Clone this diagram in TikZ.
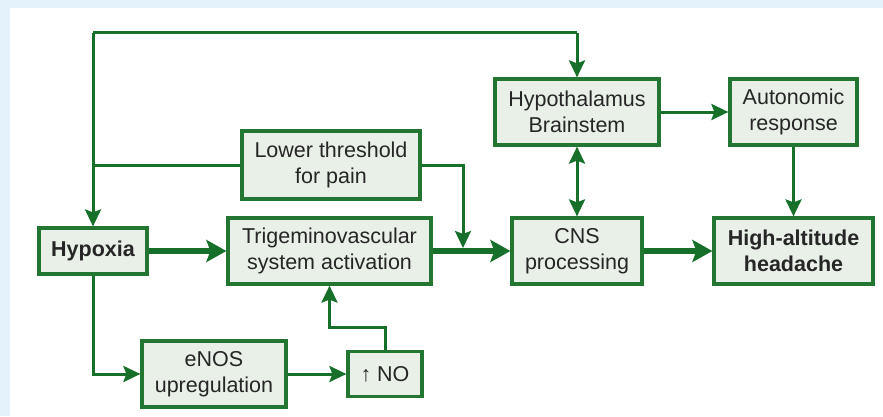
\documentclass[tikz,border=0pt]{standalone}
\usepackage{fontspec}
\setmainfont{Liberation Sans}
\usetikzlibrary{arrows.meta}
\definecolor{edgegreen}{RGB}{34,118,50}
\definecolor{linkgreen}{RGB}{22,112,42}
\definecolor{stagefill}{RGB}{232,240,231}
\definecolor{textgray}{RGB}{38,38,38}
\definecolor{edgeblue}{RGB}{228,242,252}
\tikzset{
  stage/.style={draw=edgegreen, fill=stagefill, line width=3.2pt, align=center,
    text=textgray, inner sep=0pt, font=\fontsize{21.5}{26}\selectfont},
  flow/.style={draw=linkgreen, line width=3pt,
    -{Stealth[length=17pt,width=16pt,inset=3pt]}},
  mainflow/.style={flow, line width=6pt,
    -{Stealth[length=20pt,width=22pt,inset=4pt]}}
}
\begin{document}
\begin{tikzpicture}[x=1pt, y=1pt]
  \fill[edgeblue] (0,0) rectangle (883,416);
  \fill[white] (10,0) rectangle (883,408);
  \useasboundingbox (0,0) rectangle (883,416);

  % boxes
  \node[stage, minimum width=108, minimum height=46] (hypoxia) at (93,165) {\bfseries Hypoxia};
  \node[stage, minimum width=203, minimum height=66] (trig) at (329.5,165) {Trigeminovascular\\system activation};
  \node[stage, minimum width=130, minimum height=66] (cns) at (577,165) {CNS\\processing};
  \node[stage, minimum width=159, minimum height=66] (headache) at (793.5,165) {\bfseries High-altitude\\\bfseries headache};
  \node[stage, minimum width=164, minimum height=66] (hypoth) at (577,304) {Hypothalamus\\Brainstem};
  \node[stage, minimum width=127, minimum height=66] (autonomic) at (793.5,304) {Autonomic\\response};
  \node[stage, minimum width=178, minimum height=68] (threshold) at (331,251) {Lower threshold\\for pain};
  \node[stage, minimum width=144, minimum height=66] (enos) at (214,42) {eNOS\\upregulation};
  \node[stage, minimum width=74, minimum height=45] (no) at (385,42) {↑ NO};

  \coordinate (topleft) at (93,383);
  \coordinate (topright) at (577,383);
  \coordinate (merge) at (463,165);

  % main chain
  \draw[mainflow] (hypoxia) -- (trig);
  \draw[mainflow] (trig) -- (cns);
  \draw[mainflow] (cns) -- (headache);

  % feedback and side paths
  \draw[flow, -] (topleft) -- (topright);
  \draw[flow] (topright) -- (hypoth.north);
  \draw[flow] (topleft) -- (hypoxia.north);
  \draw[flow, -] (threshold.west) -- (threshold.west -| topleft);
  \draw[flow, shorten >=3pt] (threshold.east) -| (merge);
  \draw[flow, {Stealth[length=17pt,width=16pt,inset=3pt]}-{Stealth[length=17pt,width=16pt,inset=3pt]}] (hypoth) -- (cns);
  \draw[flow] (hypoth) -- (autonomic);
  \draw[flow] (autonomic) -- (headache);
  \draw[flow] (hypoxia.south) |- (enos.west);
  \draw[flow] (enos) -- (no);
  \draw[flow] (no.north) |- (329.5,89) -- (trig.south);
\end{tikzpicture}
\end{document}
